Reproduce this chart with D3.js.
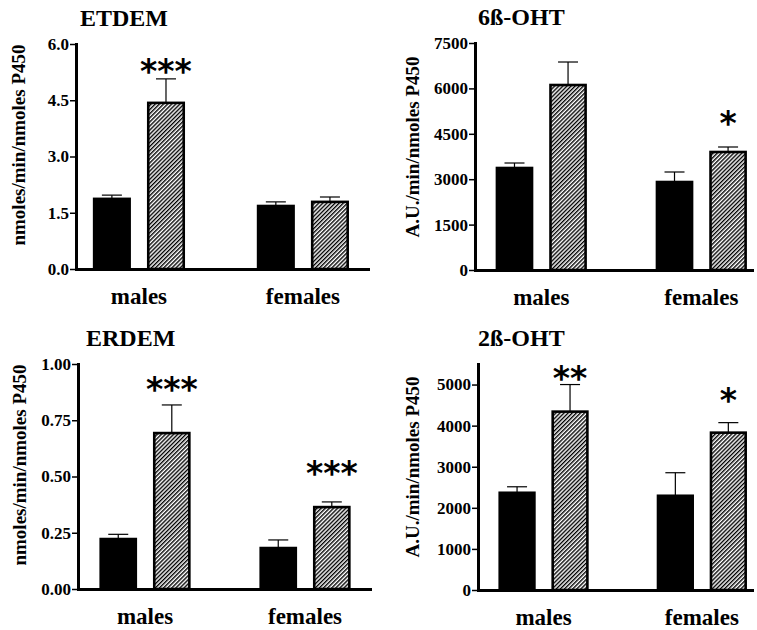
<!DOCTYPE html>
<html>
<head>
<meta charset="utf-8">
<script src="https://cdn.jsdelivr.net/npm/d3@7"></script>
<style>
  body { margin: 0; background: #fff; }
  svg { display: block; }
  text { font-family: "Liberation Serif", "Times New Roman", serif; font-weight: bold; fill: #000; }
</style>
</head>
<body>
<script>
var W = 757, H = 630;

// groups and series
var groups = ["males", "females"];
var series = ["control", "treated"];

// values in order: males control, males treated, females control, females treated
var etdemValues = [1.87, 4.43, 1.68, 1.79];
var etdemErrors = [0.10, 0.64, 0.11, 0.13];
var etdemStars = ["", "***", "", ""];
var etdemStarLevels = [0, 5.44, 0, 0];
var etdemTicks = [0, 1.5, 3.0, 4.5, 6.0];

var oht6Values = [3370, 6112, 2907, 3899];
var oht6Errors = [165, 760, 331, 165];
var oht6Stars = ["", "", "", "*"];
var oht6StarLevels = [0, 0, 0, 5055];
var oht6Ticks = [0, 1500, 3000, 4500, 6000, 7500];

var erdemValues = [0.222, 0.693, 0.182, 0.364];
var erdemErrors = [0.021, 0.125, 0.036, 0.023];
var erdemStars = ["", "***", "", "***"];
var erdemStarLevels = [0, 0.916, 0, 0.542];
var erdemTicks = [0, 0.25, 0.50, 0.75, 1.00];

var oht2Values = [2366, 4341, 2293, 3829];
var oht2Errors = [146, 659, 561, 244];
var oht2Stars = ["", "**", "", "*"];
var oht2StarLevels = [0, 5317, 0, 4780];
var oht2Ticks = [0, 1000, 2000, 3000, 4000, 5000];

var svg = d3.select("body").append("svg")
    .attr("width", W)
    .attr("height", H);

svg.append("rect").attr("width", W).attr("height", H).attr("fill", "#fff");

// hatch for treated bars
svg.append("defs").append("pattern")
    .attr("id", "hatch")
    .attr("patternUnits", "userSpaceOnUse")
    .attr("width", 2.9)
    .attr("height", 10)
    .attr("patternTransform", "rotate(45)")
  .call(function(p) {
    p.append("rect").attr("width", 2.9).attr("height", 10).attr("fill", "#fff");
    p.append("line").attr("x1", 0.7).attr("x2", 0.7).attr("y1", 0).attr("y2", 10)
        .attr("stroke", "#000").attr("stroke-width", 1.4);
  });

var panels = [
  {title: "ETDEM", yTitle: "nmoles/min/nmoles P450", values: etdemValues, errors: etdemErrors,
   stars: etdemStars, starLevels: etdemStarLevels, ticks: etdemTicks, yMax: 6, fmt: ".1f",
   ax: 76, ae: 368, y0: 269, yt: 44, pin: 0.439, pout: 0.11, align: 0.47,
   tx: 80, ty: 26, lx: 25, ly: 145},
  {title: "6ß-OHT", yTitle: "A.U./min/nmoles P450", values: oht6Values, errors: oht6Errors,
   stars: oht6Stars, starLevels: oht6StarLevels, ticks: oht6Ticks, yMax: 7500, fmt: "d",
   ax: 475, ae: 752, y0: 270, yt: 43, pin: 0.431, pout: 0.081, align: 0.8,
   tx: 478, ty: 25, lx: 419, ly: 147},
  {title: "ERDEM", yTitle: "nmoles/min/nmoles P450", values: erdemValues, errors: erdemErrors,
   stars: erdemStars, starLevels: erdemStarLevels, ticks: erdemTicks, yMax: 1, fmt: ".2f",
   ax: 78, ae: 370, y0: 589, yt: 364, pin: 0.431, pout: 0.128, align: 0.525,
   tx: 86, ty: 346, lx: 26, ly: 465},
  {title: "2ß-OHT", yTitle: "A.U./min/nmoles P450", values: oht2Values, errors: oht2Errors,
   stars: oht2Stars, starLevels: oht2StarLevels, ticks: oht2Ticks, yMax: 5500, fmt: "d",
   ax: 478, ae: 752, y0: 590, yt: 364, pin: 0.431, pout: 0.081, align: 0.8,
   tx: 478, ty: 346, lx: 419, ly: 467}
];

panels.forEach(function(p) {
    var g = svg.append("g");

    var x = d3.scaleBand()
        .domain(groups)
        .range([p.ax, p.ae])
        .paddingInner(p.pin)
        .paddingOuter(p.pout)
        .align(p.align);
    var xs = d3.scaleBand()
        .domain(series)
        .range([0, x.bandwidth()])
        .paddingInner(0.3);
    var y = d3.scaleLinear()
        .domain([0, p.yMax])
        .range([p.y0, p.yt]);

    var rows = [];
    groups.forEach(function(gr, i) {
        series.forEach(function(s, j) {
            var k = i * 2 + j;
            rows.push({group: gr, series: s, value: p.values[k], err: p.errors[k],
                       star: p.stars[k], starLevel: p.starLevels[k]});
        });
    });

    // error bars (upper only)
    var eb = g.selectAll(".err").data(rows).enter().append("g");
    eb.append("line")
        .attr("x1", function(d) { return x(d.group) + xs(d.series) + xs.bandwidth() / 2; })
        .attr("x2", function(d) { return x(d.group) + xs(d.series) + xs.bandwidth() / 2; })
        .attr("y1", function(d) { return y(d.value); })
        .attr("y2", function(d) { return y(d.value + d.err); })
        .attr("stroke", "#000").attr("stroke-width", 1.2);
    eb.append("line")
        .attr("x1", function(d) { return x(d.group) + xs(d.series) + xs.bandwidth() / 2 - 10; })
        .attr("x2", function(d) { return x(d.group) + xs(d.series) + xs.bandwidth() / 2 + 10; })
        .attr("y1", function(d) { return y(d.value + d.err); })
        .attr("y2", function(d) { return y(d.value + d.err); })
        .attr("stroke", "#000").attr("stroke-width", 1.2);

    g.selectAll(".bar").data(rows).enter().append("rect")
        .attr("x", function(d) { return x(d.group) + xs(d.series) + 1.2; })
        .attr("width", xs.bandwidth() - 2.4)
        .attr("y", function(d) { return y(d.value); })
        .attr("height", function(d) { return p.y0 - y(d.value); })
        .attr("fill", function(d) { return d.series == "control" ? "#000" : "url(#hatch)"; })
        .attr("stroke", "#000")
        .attr("stroke-width", 2.6);

    g.selectAll(".star").data(rows.filter(function(d) { return d.star; })).enter().append("text")
        .attr("x", function(d) { return x(d.group) + xs(d.series) + xs.bandwidth() / 2; })
        .attr("y", function(d) { return y(d.starLevel) + 18; })
        .attr("text-anchor", "middle")
        .style("font-family", "'DejaVu Sans'")
        .style("font-size", "33px")
        .text(function(d) { return d.star; });

    // axes
    var yAxis = g.append("g")
        .attr("transform", "translate(" + p.ax + ",0)")
        .call(d3.axisLeft(y).tickValues(p.ticks).tickFormat(d3.format(p.fmt))
              .tickSize(6).tickSizeOuter(0).tickPadding(1));
    yAxis.select(".domain").attr("stroke-width", 3).attr("stroke-linecap", "square");
    yAxis.selectAll(".tick line").attr("stroke-width", 1.5);
    yAxis.selectAll(".tick text").style("font-size", "17px")
        .style("font-family", "'Liberation Serif'").style("font-weight", "bold");

    var xAxis = g.append("g")
        .attr("transform", "translate(0," + p.y0 + ")")
        .call(d3.axisBottom(x).tickSize(0).tickSizeOuter(0).tickPadding(19));
    xAxis.select(".domain").attr("stroke-width", 3).attr("stroke-linecap", "square");
    xAxis.selectAll(".tick text").style("font-size", "23px")
        .style("font-family", "'Liberation Serif'").style("font-weight", "bold");

    g.append("text")
        .attr("x", p.tx).attr("y", p.ty)
        .style("font-size", "24px")
        .text(p.title);

    g.append("text")
        .attr("transform", "translate(" + p.lx + "," + p.ly + ") rotate(-90)")
        .attr("text-anchor", "middle")
        .style("font-size", "19px")
        .text(p.yTitle);
});
</script>
</body>
</html>
